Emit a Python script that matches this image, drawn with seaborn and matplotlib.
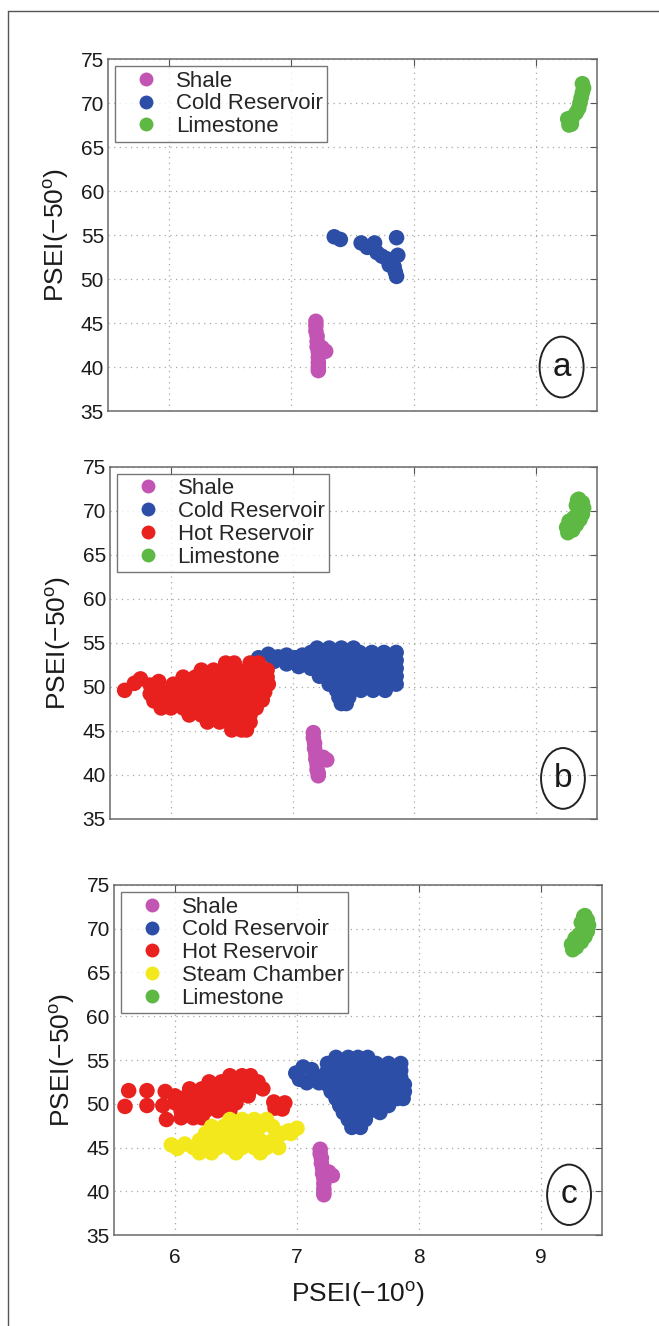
import matplotlib
matplotlib.use("Agg")
import matplotlib.pyplot as plt
from matplotlib.lines import Line2D
from matplotlib.patches import Ellipse
import pandas as pd
import seaborn as sns

# ---------------------------------------------------------------------------
# Data read off the three cross-plots (x = PSEI(-10), y = PSEI(-50))
# ---------------------------------------------------------------------------
ROCKS = ["Shale", "Cold Reservoir", "Hot Reservoir", "Steam Chamber", "Limestone"]
COLORS = {
    "Shale": "#c254b3",
    "Cold Reservoir": "#2d4ea6",
    "Hot Reservoir": "#e8211f",
    "Steam Chamber": "#f3e81b",
    "Limestone": "#5db944",
}

# --- panel a ---
shale_a_x = [7.20, 7.20, 7.20, 7.21, 7.21, 7.21, 7.22, 7.22, 7.22, 7.22, 7.22, 7.28, 7.25]
shale_a_y = [45.2, 44.7, 44.1, 43.5, 42.9, 42.3, 41.7, 41.1, 40.5, 40.0, 39.6, 41.8, 42.2]
cold_a_x = [7.35, 7.40, 7.57, 7.62, 7.68, 7.70, 7.74, 7.86, 7.87, 7.82, 7.84, 7.85, 7.86, 7.80, 7.78]
cold_a_y = [54.8, 54.5, 54.1, 53.6, 54.1, 53.0, 52.6, 54.7, 52.7, 52.0, 51.4, 50.8, 50.3, 51.6, 52.3]
lime_a_x = [9.38, 9.39, 9.38, 9.37, 9.36, 9.35, 9.33, 9.30, 9.28, 9.27, 9.29, 9.26]
lime_a_y = [72.2, 71.7, 71.2, 70.6, 70.0, 69.4, 68.9, 68.4, 67.9, 67.5, 67.6, 68.2]

# --- panel b ---
shale_b_x = [7.17, 7.17, 7.18, 7.18, 7.19, 7.19, 7.20, 7.20, 7.21, 7.21, 7.28, 7.25]
shale_b_y = [44.8, 44.2, 43.6, 43.0, 42.4, 41.8, 41.2, 40.6, 40.2, 39.9, 41.7, 42.0]
cold_b_x = [6.72, 6.80, 6.88, 6.95, 7.02, 6.85, 6.95, 7.05, 7.10, 7.08,
            7.20, 7.30, 7.40, 7.50,
            7.15, 7.25, 7.35, 7.45, 7.55, 7.65, 7.75, 7.85,
            7.15, 7.25, 7.35, 7.45, 7.55, 7.65, 7.75, 7.85,
            7.15, 7.25, 7.35, 7.45, 7.55, 7.65, 7.75, 7.85,
            7.22, 7.32, 7.42, 7.52, 7.62, 7.72, 7.82, 7.85,
            7.30, 7.40, 7.50, 7.60, 7.70, 7.80, 7.85,
            7.36, 7.46, 7.56, 7.66, 7.76,
            7.38, 7.46, 7.40, 7.44]
cold_b_y = [53.3, 53.7, 53.4, 53.6, 53.3, 52.9, 52.6, 52.3, 52.9, 53.6,
            54.4, 54.4, 54.4, 54.4,
            53.9, 53.9, 53.9, 53.9, 53.9, 53.9, 53.9, 53.9,
            53.0, 53.0, 53.0, 53.0, 53.0, 53.0, 53.0, 53.0,
            52.1, 52.1, 52.1, 52.1, 52.1, 52.1, 52.1, 52.1,
            51.2, 51.2, 51.2, 51.2, 51.2, 51.2, 51.2, 51.2,
            50.3, 50.3, 50.3, 50.3, 50.3, 50.3, 50.3,
            49.6, 49.6, 49.6, 49.6, 49.6,
            48.8, 48.8, 48.1, 48.1]
hot_b_x = [5.62, 5.70, 5.75, 5.83, 5.90, 5.91, 5.83, 5.86, 5.92,
           6.45, 6.52, 6.65, 6.72,
           6.25, 6.35, 6.45, 6.55, 6.65, 6.75, 6.79,
           6.10, 6.20, 6.30, 6.40, 6.50, 6.60, 6.70, 6.79,
           6.02, 6.12, 6.22, 6.32, 6.42, 6.52, 6.62, 6.72, 6.80,
           6.00, 6.10, 6.20, 6.30, 6.40, 6.50, 6.60, 6.70, 6.77,
           5.98, 6.08, 6.18, 6.28, 6.38, 6.48, 6.58, 6.68, 6.75,
           6.00, 6.10, 6.20, 6.30, 6.40, 6.50, 6.60, 6.70,
           6.15, 6.25, 6.35, 6.45, 6.55, 6.65,
           6.30, 6.40, 6.50, 6.60, 6.65,
           6.50, 6.58, 6.62]
hot_b_y = [49.6, 50.4, 50.9, 50.2, 50.6, 49.6, 49.2, 48.4, 47.6,
           52.7, 52.7, 52.7, 52.7,
           51.9, 51.9, 51.9, 51.9, 51.9, 51.9, 51.9,
           51.1, 51.1, 51.1, 51.1, 51.1, 51.1, 51.1, 51.1,
           50.3, 50.3, 50.3, 50.3, 50.3, 50.3, 50.3, 50.3, 50.3,
           49.4, 49.4, 49.4, 49.4, 49.4, 49.4, 49.4, 49.4, 49.4,
           48.5, 48.5, 48.5, 48.5, 48.5, 48.5, 48.5, 48.5, 48.5,
           47.6, 47.6, 47.6, 47.6, 47.6, 47.6, 47.6, 47.6,
           46.8, 46.8, 46.8, 46.8, 46.8, 46.8,
           46.0, 46.0, 46.0, 46.0, 46.0,
           45.1, 45.1, 45.1]
lime_b_x = [9.34, 9.38, 9.39, 9.38, 9.36, 9.33, 9.30, 9.26, 9.25, 9.27, 9.31, 9.33, 9.35, 9.30]
lime_b_y = [71.2, 70.9, 70.3, 69.6, 69.0, 68.4, 67.8, 67.5, 68.1, 68.8, 69.2, 70.6, 71.3, 68.2]

# --- panel c ---
shale_c_x = [7.19, 7.19, 7.20, 7.20, 7.21, 7.21, 7.22, 7.22, 7.22, 7.22, 7.22, 7.29, 7.26]
shale_c_y = [44.8, 44.3, 43.8, 43.2, 42.6, 42.0, 41.5, 40.9, 40.3, 39.9, 39.6, 41.8, 42.2]
cold_c_x = [6.99, 7.05, 7.12, 7.15, 7.08, 7.02, 7.18,
            7.32, 7.42, 7.50, 7.58,
            7.25, 7.35, 7.45, 7.55, 7.65, 7.75, 7.85,
            7.25, 7.35, 7.45, 7.55, 7.65, 7.75, 7.85,
            7.25, 7.35, 7.45, 7.55, 7.65, 7.75, 7.85,
            7.25, 7.35, 7.45, 7.55, 7.65, 7.75, 7.85, 7.88,
            7.28, 7.38, 7.48, 7.58, 7.68, 7.78, 7.88,
            7.32, 7.42, 7.52, 7.62, 7.72, 7.82, 7.87,
            7.35, 7.45, 7.55, 7.65, 7.75,
            7.38, 7.48, 7.58, 7.68,
            7.42, 7.50, 7.56,
            7.45, 7.52]
cold_c_y = [53.5, 54.2, 53.9, 53.2, 52.4, 52.8, 52.4,
            55.3, 55.3, 55.3, 55.3,
            54.6, 54.6, 54.6, 54.6, 54.6, 54.6, 54.6,
            53.8, 53.8, 53.8, 53.8, 53.8, 53.8, 53.8,
            53.0, 53.0, 53.0, 53.0, 53.0, 53.0, 53.0,
            52.2, 52.2, 52.2, 52.2, 52.2, 52.2, 52.2, 52.2,
            51.4, 51.4, 51.4, 51.4, 51.4, 51.4, 51.4,
            50.6, 50.6, 50.6, 50.6, 50.6, 50.6, 50.6,
            49.8, 49.8, 49.8, 49.8, 49.8,
            49.0, 49.0, 49.0, 49.0,
            48.2, 48.2, 48.2,
            47.3, 47.3]
hot_c_x = [5.59, 5.62, 5.77, 5.77, 5.92, 5.90, 5.93,
           6.45, 6.55, 6.62,
           6.28, 6.38, 6.48, 6.58, 6.68,
           6.12, 6.22, 6.32, 6.42, 6.52, 6.62, 6.72,
           6.00, 6.10, 6.20, 6.30, 6.40, 6.50, 6.60,
           6.00, 6.10, 6.20, 6.30, 6.40, 6.50,
           6.05, 6.15, 6.25, 6.35, 6.45,
           6.05, 6.15, 6.22,
           6.81, 6.90, 6.88, 6.82]
hot_c_y = [49.7, 51.5, 51.5, 49.8, 51.4, 49.8, 48.2,
           53.2, 53.2, 53.2,
           52.5, 52.5, 52.5, 52.5, 52.5,
           51.7, 51.7, 51.7, 51.7, 51.7, 51.7, 51.7,
           50.9, 50.9, 50.9, 50.9, 50.9, 50.9, 50.9,
           50.1, 50.1, 50.1, 50.1, 50.1, 50.1,
           49.2, 49.2, 49.2, 49.2, 49.2,
           48.4, 48.4, 48.4,
           50.2, 50.1, 49.4, 49.5]
steam_c_x = [5.97, 6.08, 6.02,
             6.45, 6.55, 6.65, 6.75,
             6.30, 6.40, 6.50, 6.60, 6.70, 6.80,
             6.25, 6.35, 6.45, 6.55, 6.65, 6.88, 6.95,
             6.20, 6.30, 6.40, 6.50, 6.60, 6.70, 6.80,
             6.15, 6.25, 6.35, 6.45, 6.55, 6.65, 6.75, 6.85,
             6.20, 6.30, 6.50, 6.70,
             7.00, 6.93]
steam_c_y = [45.3, 45.4, 44.9,
             48.2, 48.2, 48.2, 48.2,
             47.4, 47.4, 47.4, 47.4, 47.4, 47.4,
             46.6, 46.6, 46.6, 46.6, 46.6, 46.6, 46.6,
             45.8, 45.8, 45.8, 45.8, 45.8, 45.8, 45.8,
             45.0, 45.0, 45.0, 45.0, 45.0, 45.0, 45.0, 45.0,
             44.4, 44.4, 44.4, 44.4,
             47.2, 46.9]
lime_c_x = [9.35, 9.38, 9.39, 9.38, 9.36, 9.33, 9.29, 9.26, 9.25, 9.28, 9.31, 9.33, 9.36, 9.30]
lime_c_y = [71.4, 71.0, 70.4, 69.7, 69.1, 68.5, 67.9, 67.6, 68.2, 68.9, 69.3, 70.7, 71.5, 68.3]

X_TICKS = [6, 7, 8, 9]
Y_TICKS = [35, 40, 45, 50, 55, 60, 65, 70, 75]
PANEL_LETTERS = ["a", "b", "c"]


def make_frame(groups):
    """groups: list of (rock name, xs, ys) -> long DataFrame, drawing order kept."""
    parts = [pd.DataFrame({"x": xs, "y": ys, "rock": name}) for name, xs, ys in groups]
    return pd.concat(parts, ignore_index=True)


panels = [
    make_frame([("Shale", shale_a_x, shale_a_y),
                ("Cold Reservoir", cold_a_x, cold_a_y),
                ("Limestone", lime_a_x, lime_a_y)]),
    make_frame([("Shale", shale_b_x, shale_b_y),
                ("Cold Reservoir", cold_b_x, cold_b_y),
                ("Hot Reservoir", hot_b_x, hot_b_y),
                ("Limestone", lime_b_x, lime_b_y)]),
    make_frame([("Shale", shale_c_x, shale_c_y),
                ("Cold Reservoir", cold_c_x, cold_c_y),
                ("Hot Reservoir", hot_c_x, hot_c_y),
                ("Steam Chamber", steam_c_x, steam_c_y),
                ("Limestone", lime_c_x, lime_c_y)]),
]

# ---------------------------------------------------------------------------
# Style
# ---------------------------------------------------------------------------
sns.set_style("white")
plt.rcParams["font.family"] = ["Liberation Sans", "DejaVu Sans"]
plt.rcParams["mathtext.fontset"] = "custom"
plt.rcParams["mathtext.rm"] = "Liberation Sans"

fig = plt.figure(figsize=(6.59, 13.26), dpi=100)

# axes boxes in figure fractions (left, bottom, width, height)
boxes = [
    (0.164, 0.690, 0.742, 0.2655),
    (0.167, 0.3824, 0.739, 0.2657),
    (0.173, 0.0686, 0.7405, 0.264),
]
ellipse_xy = [(9.21, 40.0), (9.22, 39.6), (9.23, 39.6)]

for i, (df, box) in enumerate(zip(panels, boxes)):
    ax = fig.add_axes(box)
    sns.scatterplot(data=df, x="x", y="y", hue="rock", palette=COLORS,
                    s=125, linewidth=0, legend=False, ax=ax, zorder=3)

    ax.set_xlim(5.5, 9.5)
    ax.set_ylim(35, 75)
    ax.set_xticks(X_TICKS)
    ax.set_yticks(Y_TICKS)
    ax.grid(True, linestyle=(0, (1, 3.5)), color="#a8a8a8", linewidth=0.9)
    for sp in ax.spines.values():
        sp.set_color("#6a6a6a")
        sp.set_linewidth(1.1)
    ax.tick_params(direction="in", top=True, right=True, length=5, width=0.8,
                   color="#555555", labelsize=15, labelcolor="#1a1a1a")
    ax.tick_params(axis="y", pad=3)
    ax.tick_params(axis="x", pad=9)
    ax.set_ylabel("PSEI(\u221250$^{\\mathrm{o}}$)", fontsize=19, labelpad=7,
                  color="#1a1a1a")
    if i < 2:
        ax.tick_params(labelbottom=False)
        ax.set_xlabel("")
    else:
        ax.set_xlabel("PSEI(\u221210$^{\\mathrm{o}}$)", fontsize=19, labelpad=9,
                      color="#1a1a1a")

    # legend, same order as the rocks appear in this panel
    present = [r for r in ROCKS if r in set(df["rock"])]
    handles = [Line2D([], [], linestyle="none", marker="o", markersize=10,
                      markerfacecolor=COLORS[r], markeredgewidth=0, label=r)
               for r in present]
    leg = ax.legend(handles=handles, loc="upper left", fontsize=16,
                    frameon=True, fancybox=False, borderpad=0.2,
                    labelspacing=0.08, handlelength=2.4, handletextpad=0.12,
                    borderaxespad=0.32)
    leg.get_frame().set_edgecolor("#555555")
    leg.get_frame().set_linewidth(1.0)
    leg.set_zorder(5)

    # circled panel letter
    ex, ey = ellipse_xy[i]
    ax.add_patch(Ellipse((ex, ey), width=0.36, height=6.9, fill=False,
                         edgecolor="#222222", linewidth=1.4, zorder=4))
    ax.text(ex, ey, PANEL_LETTERS[i], ha="center", va="center", fontsize=24,
            color="#1a1a1a", zorder=4)

# outer page frame (left and top edges visible)
fig.add_artist(Line2D([8 / 659, 8 / 659], [1 - 11 / 1326, 0], color="#555555",
                      linewidth=1.0))
fig.add_artist(Line2D([8 / 659, 1], [1 - 11 / 1326, 1 - 11 / 1326],
                      color="#555555", linewidth=1.0))

fig.savefig("out.png", dpi=100)
